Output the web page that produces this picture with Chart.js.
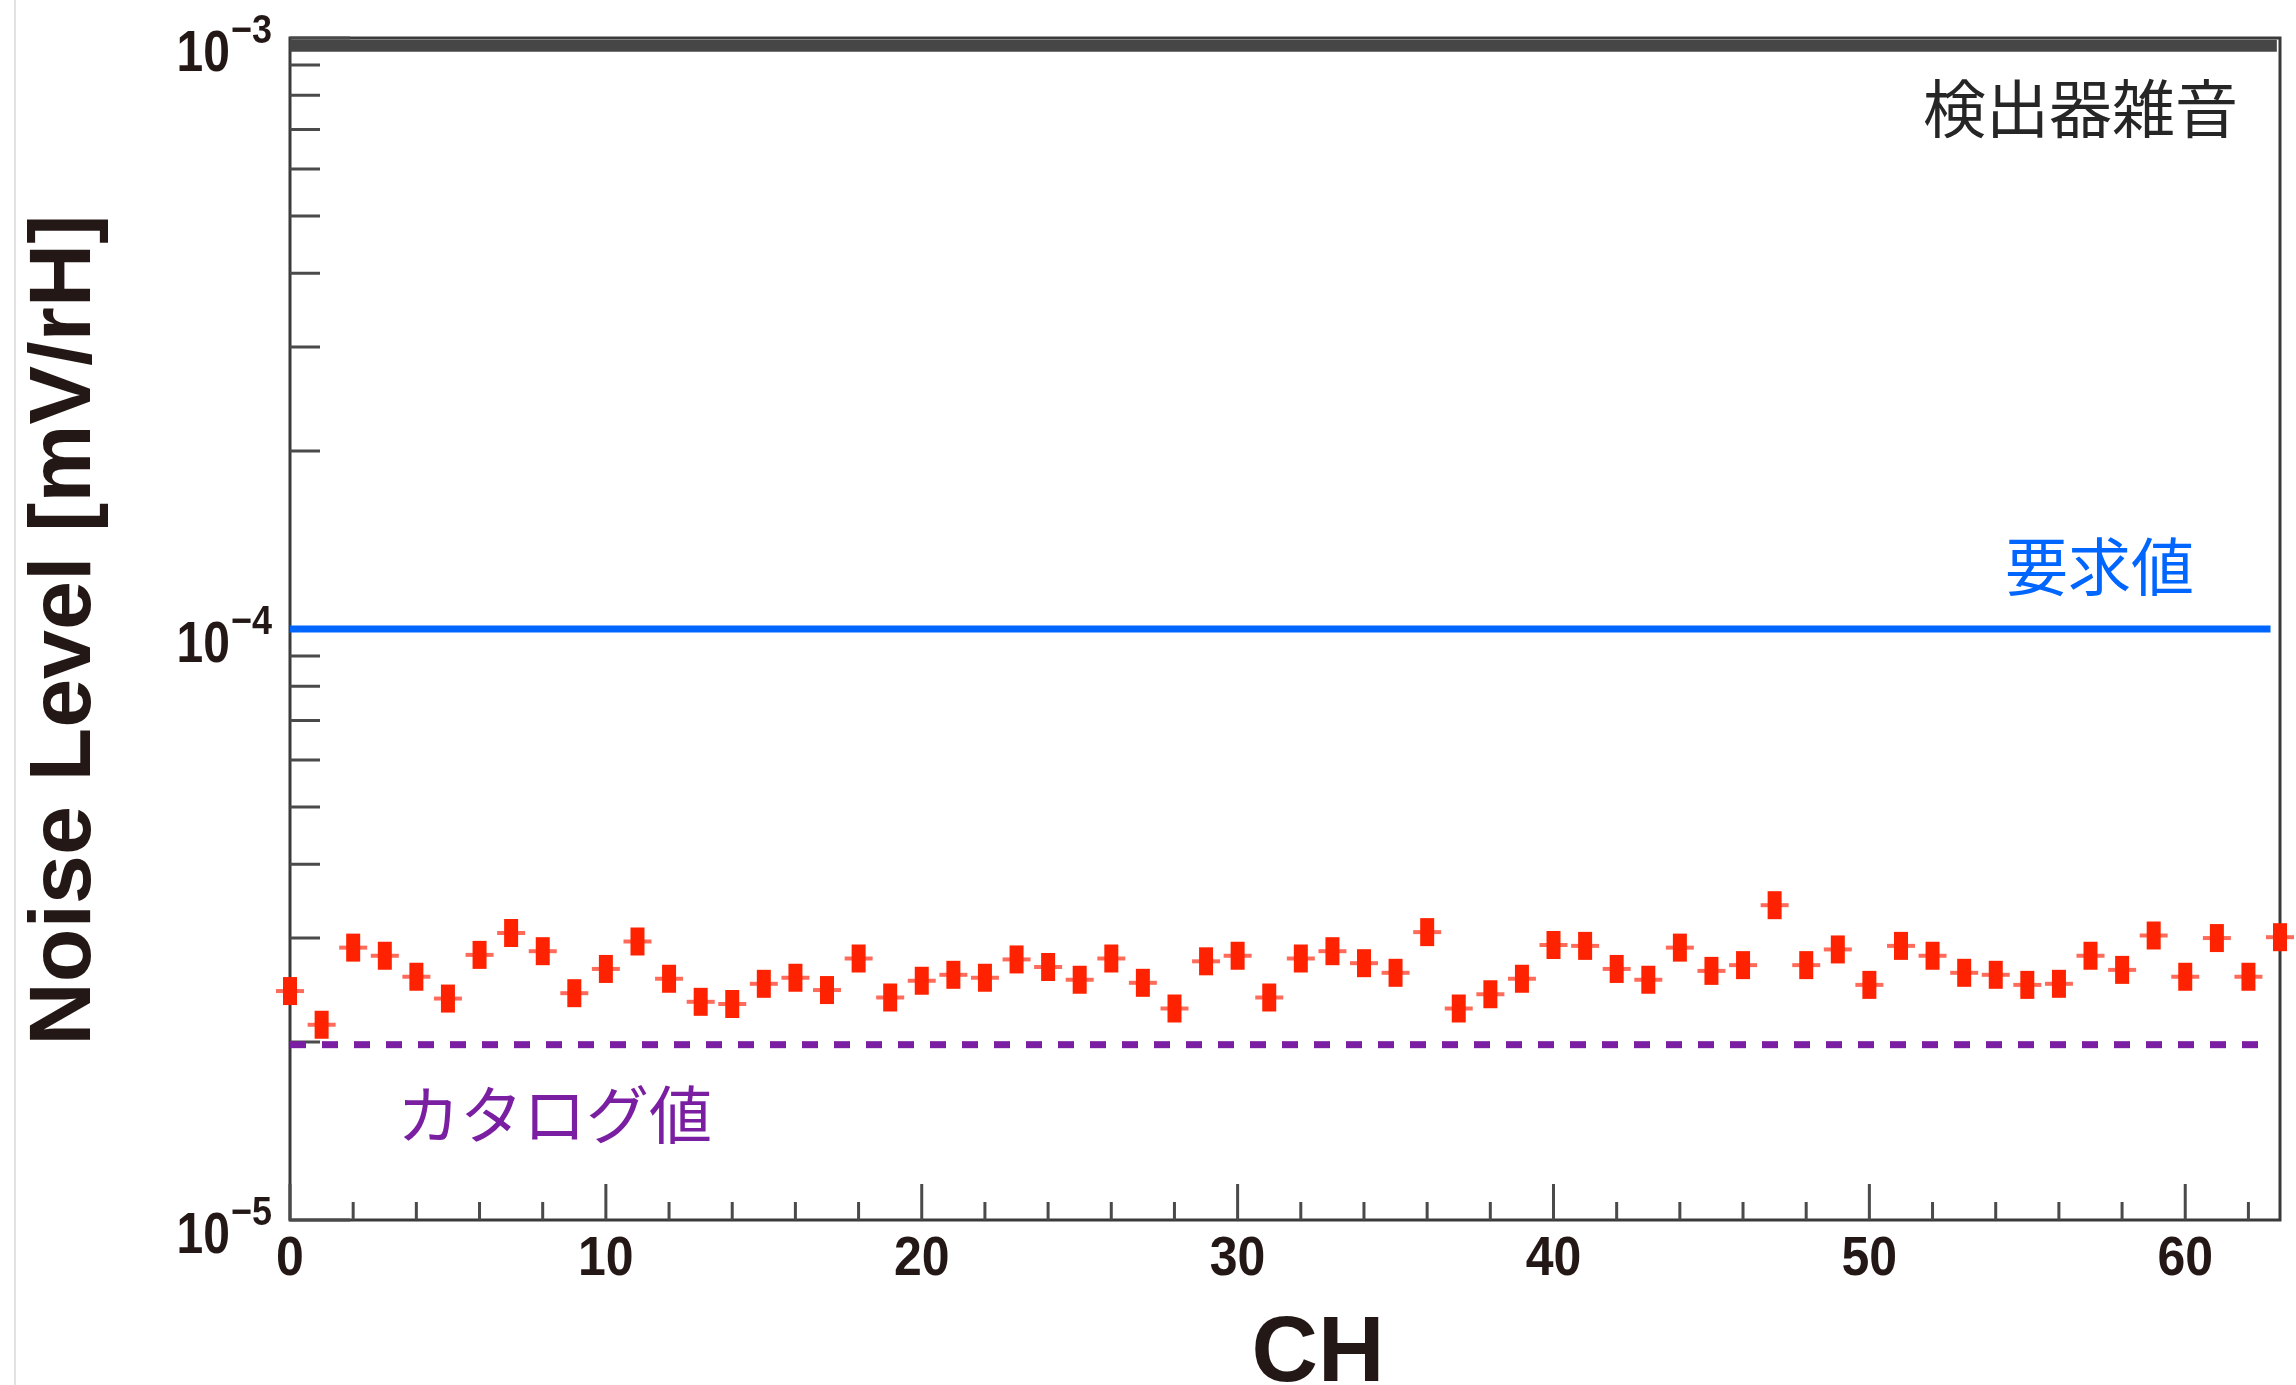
<!DOCTYPE html>
<html>
<head>
<meta charset="utf-8">
<script src="https://cdn.jsdelivr.net/npm/chart.js@4"></script>
<style>
  html, body { margin: 0; padding: 0; background: #fff; }
  #wrap { width: 2296px; height: 1385px; position: relative; }
</style>
</head>
<body>
<div id="wrap"><canvas id="noiseChart" width="2296" height="1385"></canvas></div>
<script>
// channel numbers and measured noise level per channel [mV/rH]
const channels = [
    0, 1, 2, 3, 4, 5, 6, 7, 8, 9, 10, 11, 12, 13, 14, 15,
    16, 17, 18, 19, 20, 21, 22, 23, 24, 25, 26, 27, 28, 29, 30, 31,
    32, 33, 34, 35, 36, 37, 38, 39, 40, 41, 42, 43, 44, 45, 46, 47,
    48, 49, 50, 51, 52, 53, 54, 55, 56, 57, 58, 59, 60, 61, 62, 63
];
const noiseLevel = [
    2.44e-5, 2.14e-5, 2.89e-5, 2.80e-5, 2.58e-5, 2.37e-5, 2.81e-5, 3.06e-5,
    2.85e-5, 2.42e-5, 2.66e-5, 2.96e-5, 2.56e-5, 2.34e-5, 2.32e-5, 2.51e-5,
    2.57e-5, 2.45e-5, 2.77e-5, 2.38e-5, 2.54e-5, 2.60e-5, 2.57e-5, 2.76e-5,
    2.68e-5, 2.55e-5, 2.77e-5, 2.52e-5, 2.28e-5, 2.74e-5, 2.80e-5, 2.38e-5,
    2.77e-5, 2.85e-5, 2.72e-5, 2.62e-5, 3.07e-5, 2.28e-5, 2.41e-5, 2.56e-5,
    2.92e-5, 2.91e-5, 2.66e-5, 2.55e-5, 2.89e-5, 2.64e-5, 2.70e-5, 3.41e-5,
    2.70e-5, 2.87e-5, 2.50e-5, 2.91e-5, 2.80e-5, 2.62e-5, 2.60e-5, 2.50e-5,
    2.51e-5, 2.80e-5, 2.65e-5, 3.03e-5, 2.58e-5, 3.00e-5, 2.58e-5, 3.01e-5
];

// reference levels (value, x extent)
const detectorNoise = 9.7e-4;
const detectorSpan = [0, 62.9];
const requirement = 1e-4;
const requirementSpan = [0, 62.7];
const catalogValue = 1.98e-5;
const catalogSpan = [0, 62.6];

// axis ticks
const xMajorTicks = [0, 10, 20, 30, 40, 50, 60];
const xMinorTicks = [2, 4, 6, 8, 12, 14, 16, 18, 22, 24, 26, 28, 32, 34, 36, 38,
    42, 44, 46, 48, 52, 54, 56, 58, 62];
const yMajorTicks = [1e-5, 1e-4, 1e-3];
const yMajorLabels = ['5', '4', '3'];
const yMinorTicks = [2e-5, 3e-5, 4e-5, 5e-5, 6e-5, 7e-5, 8e-5, 9e-5,
    2e-4, 3e-4, 4e-4, 5e-4, 6e-4, 7e-4, 8e-4, 9e-4];

const INK = '#231815';
const LATIN = '"Liberation Sans", Arial, sans-serif';
const CJK = '"Noto Sans CJK JP", sans-serif';

// ROOT-like thick error bar marker
function makeMarker() {
    const c = document.createElement('canvas');
    c.width = 30;
    c.height = 30;
    const g = c.getContext('2d');
    g.fillStyle = 'rgba(255, 70, 50, 0.8)';
    g.fillRect(1, 13, 28, 4);
    g.fillStyle = '#ff2200';
    g.fillRect(8, 1, 14, 28);
    return c;
}

// text a bit taller than wide, like the original tick labels
function tallText(ctx, text, x, y, stretch) {
    ctx.save();
    ctx.translate(x, y);
    ctx.scale(1, stretch);
    ctx.fillText(text, 0, 0);
    ctx.restore();
}

const framePlugin = {
    id: 'rootFrame',
    beforeDatasetsDraw(chart) {
        const { ctx, chartArea: a, scales: { x, y } } = chart;
        ctx.save();
        // faint slide edge on the left
        ctx.strokeStyle = '#e2e2e2';
        ctx.lineWidth = 2;
        ctx.beginPath();
        ctx.moveTo(15, 0);
        ctx.lineTo(15, chart.height);
        ctx.stroke();

        // frame
        ctx.strokeStyle = '#3a3a3a';
        ctx.lineWidth = 3;
        ctx.strokeRect(a.left, a.top, a.right - a.left, a.bottom - a.top);

        // x ticks (inward)
        ctx.strokeStyle = '#4a4a4a';
        ctx.lineWidth = 3;
        ctx.beginPath();
        xMajorTicks.forEach(v => {
            const px = x.getPixelForValue(v);
            ctx.moveTo(px, a.bottom);
            ctx.lineTo(px, a.bottom - 36);
        });
        xMinorTicks.forEach(v => {
            const px = x.getPixelForValue(v);
            ctx.moveTo(px, a.bottom);
            ctx.lineTo(px, a.bottom - 18);
        });
        // y ticks (inward)
        yMajorTicks.forEach(v => {
            const py = y.getPixelForValue(v);
            ctx.moveTo(a.left, py);
            ctx.lineTo(a.left + 60, py);
        });
        yMinorTicks.forEach(v => {
            const py = y.getPixelForValue(v);
            ctx.moveTo(a.left, py);
            ctx.lineTo(a.left + 30, py);
        });
        ctx.stroke();
        ctx.restore();
    },
    afterDraw(chart) {
        const { ctx, chartArea: a, scales: { x, y } } = chart;
        ctx.save();
        ctx.fillStyle = INK;

        // x tick labels
        ctx.font = 'bold 50px ' + LATIN;
        ctx.textAlign = 'center';
        ctx.textBaseline = 'alphabetic';
        xMajorTicks.forEach(v => {
            tallText(ctx, String(v), x.getPixelForValue(v), a.bottom + 55, 1.1);
        });

        // y tick labels 10^-n
        yMajorTicks.forEach((v, i) => {
            const py = y.getPixelForValue(v);
            ctx.textAlign = 'right';
            ctx.font = 'bold 48px ' + LATIN;
            tallText(ctx, '10', 230, py + 33, 1.18);
            ctx.textAlign = 'left';
            ctx.font = 'bold 36px ' + LATIN;
            tallText(ctx, '\u2212' + yMajorLabels[i], 231, py + 5, 1.12);
        });

        // axis titles
        ctx.textAlign = 'center';
        ctx.font = 'bold 92px ' + LATIN;
        ctx.fillText('CH', (a.left + a.right) / 2 + 33, 1381);

        ctx.save();
        ctx.translate(90, 630);
        ctx.rotate(-Math.PI / 2);
        ctx.font = 'bold 88px ' + LATIN;
        ctx.fillText('Noise Level [mV/rH]', 0, 0);
        ctx.restore();

        // line labels
        ctx.font = '63px ' + CJK;
        ctx.textBaseline = 'middle';
        ctx.textAlign = 'right';
        ctx.fillStyle = '#262626';
        ctx.fillText('検出器雑音', 2238, 108);
        ctx.fillStyle = '#0066ff';
        ctx.fillText('要求値', 2194, 566);
        ctx.textAlign = 'left';
        ctx.fillStyle = '#7a1fa2';
        ctx.fillText('カタログ値', 397, 1114);
        ctx.restore();
    }
};

const levelLine = (value, span, color, width, dash) => ({
    type: 'line',
    data: span.map(v => ({ x: v, y: value })),
    borderColor: color,
    borderWidth: width,
    borderDash: dash || [],
    borderCapStyle: 'butt',
    pointRadius: 0,
    showLine: true,
    clip: false,
    order: 2
});

new Chart(document.getElementById('noiseChart'), {
    type: 'scatter',
    data: {
        datasets: [
            {
                label: 'Noise Level',
                data: channels.map((c, i) => ({ x: c, y: noiseLevel[i] })),
                pointStyle: makeMarker(),
                pointRadius: 15,
                clip: false,
                order: 1
            },
            levelLine(detectorNoise, detectorSpan, '#464646', 12),
            levelLine(requirement, requirementSpan, '#0066ff', 7),
            levelLine(catalogValue, catalogSpan, '#7a1fa2', 7, [16, 16])
        ]
    },
    plugins: [framePlugin],
    options: {
        responsive: false,
        animation: false,
        events: [],
        layout: { padding: { left: 290, right: 14, top: 38, bottom: 165 } },
        plugins: {
            legend: { display: false },
            tooltip: { enabled: false }
        },
        scales: {
            x: { type: 'linear', min: 0, max: 63, display: false },
            y: { type: 'logarithmic', min: 1e-5, max: 1e-3, display: false }
        }
    }
});
</script>
</body>
</html>
